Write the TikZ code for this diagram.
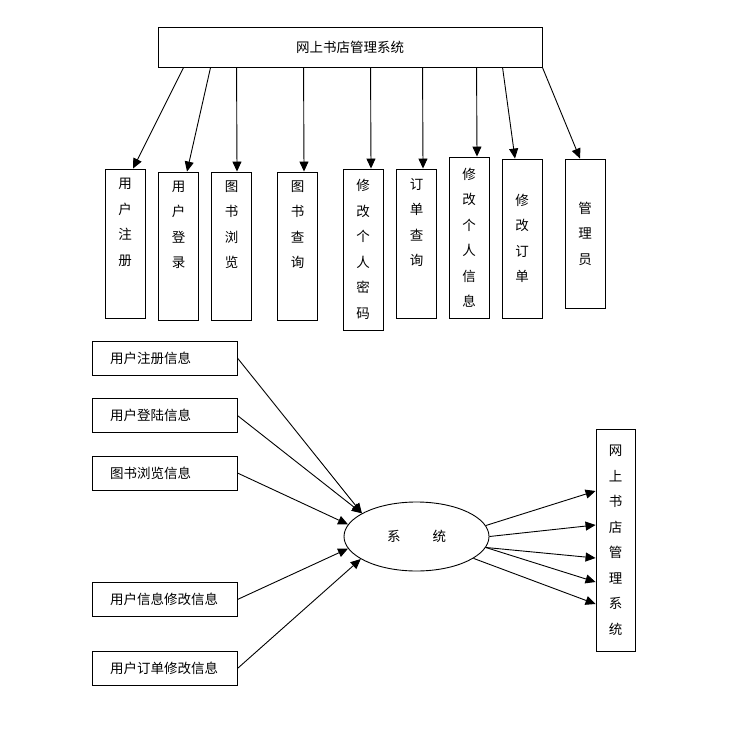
\documentclass[tikz,border=0pt]{standalone}
\usepackage{fontspec}
\newfontfamily\cjk{Noto Sans CJK SC}
\newcommand\cjkfont{\cjk\fontsize{13.5pt}{25.5pt}\selectfont}
\usetikzlibrary{arrows.meta,shapes.geometric}
\tikzset{
  box/.style={draw, line width=0.9pt, inner sep=0pt, font=\cjkfont, align=center},
  col/.style={box, minimum width=40pt},
  info/.style={box, minimum height=34pt, text width=109pt, inner xsep=18pt, align=left},
  vtext/.style={inner sep=0pt, font=\cjkfont, align=center},
  flow/.style={-{Triangle[length=10pt,width=9pt]}, line width=0.9pt},
}

\begin{document}
\begin{tikzpicture}[x=1pt, y=-1pt]
          \useasboundingbox (0,0) rectangle (728,733);

          \node[box, minimum width=384pt, minimum height=40pt] (shop) at (350,47) {网上书店管理系统};

          % functions under the system
          \node[col, minimum height=149pt] (zhuce) at (125,243.5) {};
          \node[vtext, anchor=north] (zhuceT) at ([yshift=-9.5pt]zhuce.north) {用\\户\\注\\册};
          \node[col, minimum height=148pt] (denglu) at (178.5,246) {};
          \node[vtext, anchor=north] (dengluT) at ([yshift=-9pt]denglu.north) {用\\户\\登\\录};
          \node[col, minimum height=148pt] (liulan) at (231.5,246) {};
          \node[vtext, anchor=north] (liulanT) at ([yshift=-9pt]liulan.north) {图\\书\\浏\\览};
          \node[col, minimum height=148pt] (chaxun) at (297.5,246) {};
          \node[vtext, anchor=north] (chaxunT) at ([yshift=-9pt]chaxun.north) {图\\书\\查\\询};
          \node[col, minimum height=161pt] (mima) at (363,249.5) {修\\改\\个\\人\\密\\码};
          \node[col, minimum height=149pt] (dingdan) at (416.5,243.5) {};
          \node[vtext, anchor=north] (dingdanT) at ([yshift=-9.5pt]dingdan.north) {订\\单\\查\\询};
          \node[col, minimum height=161pt] (xinxi) at (469,237.5) {修\\改\\个\\人\\信\\息};
          \node[col, minimum height=159pt] (xiugai) at (522,238.5) {修\\改\\订\\单};
          \node[col, minimum height=149pt] (admin) at (585,233.5) {管\\理\\员};

          \draw[flow] ([xshift=26pt]shop.south west) -- ([xshift=8pt]zhuce.north);
          \draw[flow] ([xshift=53pt]shop.south west) -- ([xshift=8.5pt]denglu.north);
          \draw[flow] ([xshift=79pt]shop.south west) -- ([xshift=5.5pt]liulan.north);
          \draw[flow] ([xshift=146pt]shop.south west) -- ([xshift=6.5pt]chaxun.north);
          \draw[flow] ([xshift=213pt]shop.south west) -- ([xshift=8pt]mima.north);
          \draw[flow] ([xshift=265pt]shop.south west) -- ([xshift=6.5pt]dingdan.north);
          \draw[flow] ([xshift=319pt]shop.south west) -- ([xshift=8pt]xinxi.north);
          \draw[flow] ([xshift=345pt]shop.south west) -- ([xshift=-7pt]xiugai.north);
          \draw[flow] (shop.south east) -- ([xshift=-5pt]admin.north);

          % data flow
          \node[info] (reg) at (164.5,358) {用户注册信息};
          \node[info] (login) at (164.5,415.5) {用户登陆信息};
          \node[info] (browse) at (164.5,473) {图书浏览信息};
          \node[info] (modinfo) at (164.5,599.5) {用户信息修改信息};
          \node[info] (modorder) at (164.5,668.5) {用户订单修改信息};

          \node[box, ellipse, minimum width=145pt, minimum height=69pt] (core) at (416.5,536.5) {系\hspace{32pt}统};
          \node[col, minimum width=39pt, minimum height=222pt] (shopv) at (615.5,540) {网\\上\\书\\店\\管\\理\\系\\统};

          \draw[flow] (reg.east) -- (core.157);
          \draw[flow] (login.east) -- (core.157);
          \draw[flow] (browse.east) -- (core.170);
          \draw[flow] (modinfo.east) -- (core.190);
          \draw[flow] (modorder.east) -- (core.202);

          \draw[flow] (core.9) -- ([yshift=49pt]shopv.west);
          \draw[flow] (core.0) -- ([yshift=15pt]shopv.west);
          \draw[flow] (core.351) -- ([yshift=-18pt]shopv.west);
          \draw[flow] (core.351) -- ([yshift=-42pt]shopv.west);
          \draw[flow] (core.339) -- ([yshift=-64pt]shopv.west);
        \end{tikzpicture}
\end{document}
